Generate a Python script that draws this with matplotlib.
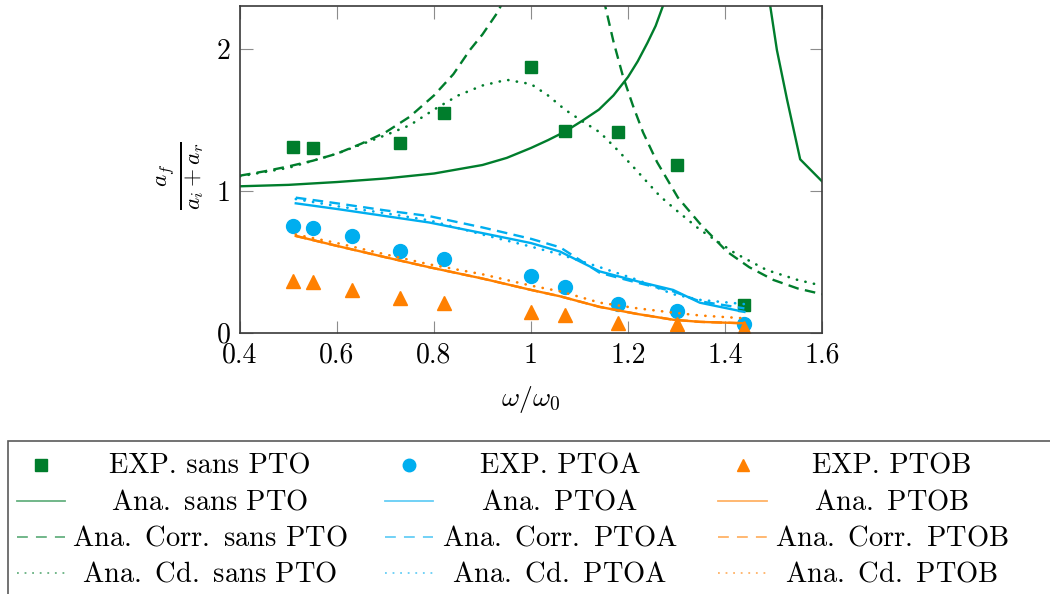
import matplotlib
matplotlib.use("Agg")
import matplotlib.pyplot as plt
from matplotlib.lines import Line2D
from matplotlib.patches import Rectangle
import numpy as np

plt.rcParams["font.family"] = "cmr10"
plt.rcParams["mathtext.fontset"] = "cm"
plt.rcParams["axes.unicode_minus"] = False

GREEN = "#007d2c"
BLUE = "#00aeef"
ORANGE = "#ff8000"

# experimental points
x_exp_sans = [0.51, 0.55, 0.73, 0.82, 1.0, 1.07, 1.18, 1.3, 1.44]
y_exp_sans = [1.306, 1.30, 1.335, 1.546, 1.87, 1.419, 1.414, 1.18, 0.194]
x_exp = [0.51, 0.55, 0.63, 0.73, 0.82, 1.0, 1.07, 1.18, 1.3, 1.44]
y_exp_ptoa = [0.75, 0.738, 0.68, 0.576, 0.515, 0.40, 0.32, 0.20, 0.154, 0.06]
y_exp_ptob = [0.365, 0.353, 0.30, 0.24, 0.205, 0.142, 0.123, 0.07, 0.06, 0.03]

# analytical, sans PTO (nan = break at resonance)
x_ana_sans = [0.4, 0.5, 0.6, 0.7, 0.8, 0.9, 0.95, 1.0, 1.035, 1.07, 1.105, 1.14, 1.17,
              1.2, 1.22, 1.24, 1.257, 1.272, 1.285,
              np.nan, 1.48, 1.507, 1.528, 1.555, 1.6]
y_ana_sans = [1.03, 1.04, 1.06, 1.085, 1.12, 1.18, 1.23, 1.30, 1.355, 1.415, 1.49, 1.57, 1.67,
              1.80, 1.91, 2.04, 2.16, 2.30, 2.45,
              np.nan, 2.6, 1.99, 1.64, 1.22, 1.065]
x_corr_sans = [0.4, 0.45, 0.5, 0.55, 0.6, 0.65, 0.7, 0.75, 0.8, 0.84, 0.874, 0.9, 0.93, 0.95,
               np.nan, 1.145, 1.153, 1.17, 1.19, 1.21, 1.231, 1.26, 1.303, 1.35, 1.404,
               1.45, 1.5, 1.55, 1.6]
y_corr_sans = [1.105, 1.135, 1.17, 1.21, 1.26, 1.33, 1.41, 1.52, 1.67, 1.82, 1.99, 2.10, 2.25, 2.38,
               np.nan, 2.40, 2.30, 2.05, 1.80, 1.60, 1.41, 1.20, 0.95, 0.76, 0.57,
               0.46, 0.37, 0.31, 0.27]
x_cd_sans = [0.4, 0.5, 0.6, 0.7, 0.75, 0.8, 0.85, 0.9, 0.95, 1.0, 1.035, 1.07, 1.105, 1.142,
             1.18, 1.21, 1.266, 1.3, 1.348, 1.42, 1.486, 1.55, 1.6]
y_cd_sans = [1.10, 1.16, 1.26, 1.39, 1.46, 1.57, 1.67, 1.74, 1.78, 1.75, 1.67, 1.57, 1.49, 1.41,
             1.28, 1.17, 0.96, 0.86, 0.725, 0.56, 0.44, 0.37, 0.33]

# analytical, PTOA / PTOB
x_ana = [0.515, 0.6, 0.7, 0.79, 0.9, 1.0, 1.06, 1.142, 1.22, 1.293, 1.348, 1.44]
y_ana_ptoa = [0.91, 0.87, 0.82, 0.775, 0.70, 0.63, 0.57, 0.43, 0.36, 0.30, 0.21, 0.145]
y_corr_ptoa = [0.95, 0.91, 0.86, 0.82, 0.74, 0.66, 0.60, 0.42, 0.35, 0.29, 0.22, 0.17]
y_cd_ptoa = [0.94, 0.89, 0.84, 0.79, 0.69, 0.605, 0.55, 0.46, 0.37, 0.27, 0.23, 0.20]
y_ana_ptob = [0.68, 0.61, 0.53, 0.46, 0.38, 0.30, 0.255, 0.18, 0.13, 0.09, 0.075, 0.065]
y_corr_ptob = y_ana_ptob
y_cd_ptob = [0.69, 0.63, 0.55, 0.48, 0.41, 0.33, 0.29, 0.21, 0.17, 0.14, 0.12, 0.10]

DASH = (0, (4.5, 2.7))
DOT = (0, (0.1, 3.2))

fig = plt.figure(figsize=(10.5, 5.94), dpi=100)
ax = fig.add_axes([240 / 1050, 1 - 332.5 / 594, 582 / 1050, 326.5 / 594])

ax.plot(x_exp_sans, y_exp_sans, "s", color=GREEN, ms=9, ls="none")
ax.plot(x_exp, y_exp_ptoa, "o", color=BLUE, ms=10, ls="none")
ax.plot(x_exp, y_exp_ptob, "^", color=ORANGE, ms=10.5, ls="none")
ax.plot(x_ana_sans, y_ana_sans, color=GREEN, lw=1.7)
ax.plot(x_ana, y_ana_ptoa, color=BLUE, lw=1.7)
ax.plot(x_ana, y_ana_ptob, color=ORANGE, lw=1.7)
ax.plot(x_corr_sans, y_corr_sans, color=GREEN, lw=1.7, ls=DASH)
ax.plot(x_ana, y_corr_ptoa, color=BLUE, lw=1.7, ls=DASH)
ax.plot(x_ana, y_corr_ptob, color=ORANGE, lw=1.7, ls=DASH)
ax.plot(x_cd_sans, y_cd_sans, color=GREEN, lw=1.9, ls=DOT, dash_capstyle="round")
ax.plot(x_ana, y_cd_ptoa, color=BLUE, lw=1.9, ls=DOT, dash_capstyle="round")
ax.plot(x_ana, y_cd_ptob, color=ORANGE, lw=1.9, ls=DOT, dash_capstyle="round")

ax.set_xlim(0.4, 1.6)
ax.set_ylim(0, 2.3)
xt = [0.4, 0.6, 0.8, 1.0, 1.2, 1.4, 1.6]
ax.set_xticks(xt)
ax.set_xticklabels(["0.4", "0.6", "0.8", "1", "1.2", "1.4", "1.6"])
ax.set_yticks([0, 1, 2])
ax.set_yticklabels(["0", "1", "2"])
ax.tick_params(direction="in", length=9, width=0.8, color="#8c8c8c",
               top=True, right=True, labelsize=20, pad=7)
for s in ax.spines.values():
    s.set_color("#3a3a3a")
    s.set_linewidth(1.2)

ax.set_xlabel(r"$\omega/\omega_0$", fontsize=20)
ax.xaxis.set_label_coords(0.5, -0.205)
ax.xaxis.label.set_verticalalignment("center")
ax.set_ylabel(r"$\frac{a_f}{a_i+a_r}$", fontsize=24)
ax.yaxis.set_label_coords(-0.103, 0.48)
ax.yaxis.label.set_verticalalignment("center")

# legend box, drawn by hand so the labels are centred like pgfplots
def fx(px):
    return px / 1050


def fy(py):
    return 1 - py / 594


fig.add_artist(Rectangle((fx(7.5), fy(600)), 1.1, fy(441) - fy(600),
                         transform=fig.transFigure, fill=False,
                         edgecolor="#5a5a5a", lw=1.2))

# a little extra space after "Ana." / "Corr." / "Cd.", like TeX does
sp = r"$\,$ "
labels = [["EXP. sans PTO", "Ana." + sp + "sans PTO",
           "Ana." + sp + "Corr." + sp + "sans PTO", "Ana." + sp + "Cd." + sp + "sans PTO"],
          ["EXP. PTOA", "Ana." + sp + "PTOA",
           "Ana." + sp + "Corr." + sp + "PTOA", "Ana." + sp + "Cd." + sp + "PTOA"],
          ["EXP. PTOB", "Ana." + sp + "PTOB",
           "Ana." + sp + "Corr." + sp + "PTOB", "Ana." + sp + "Cd." + sp + "PTOB"]]
colors = [GREEN, BLUE, ORANGE]
markers = ["s", "o", "^"]
handle_x = [(17, 65), (385, 433), (718, 767)]
text_x = [210, 560, 892]
styles = ["-", (0, (6, 4.5)), (0, (1, 3.2))]

for c in range(3):
    x0, x1 = handle_x[c]
    for r in range(4):
        yh = 465 + 36 * r
        if r == 0:
            fig.add_artist(Line2D([fx((x0 + x1) / 2)], [fy(yh)], marker=markers[c],
                                  color=colors[c], ms=9, ls="none",
                                  transform=fig.transFigure))
        else:
            fig.add_artist(Line2D([fx(x0), fx(x1)], [fy(yh), fy(yh)], color=colors[c],
                                  lw=1.3, alpha=0.6, ls=styles[r - 1],
                                  transform=fig.transFigure))
        fig.text(fx(text_x[c]), fy(473 + 36 * r), labels[c][r], ha="center",
                 va="baseline", fontsize=20.5)

fig.savefig("out.png", dpi=100)
